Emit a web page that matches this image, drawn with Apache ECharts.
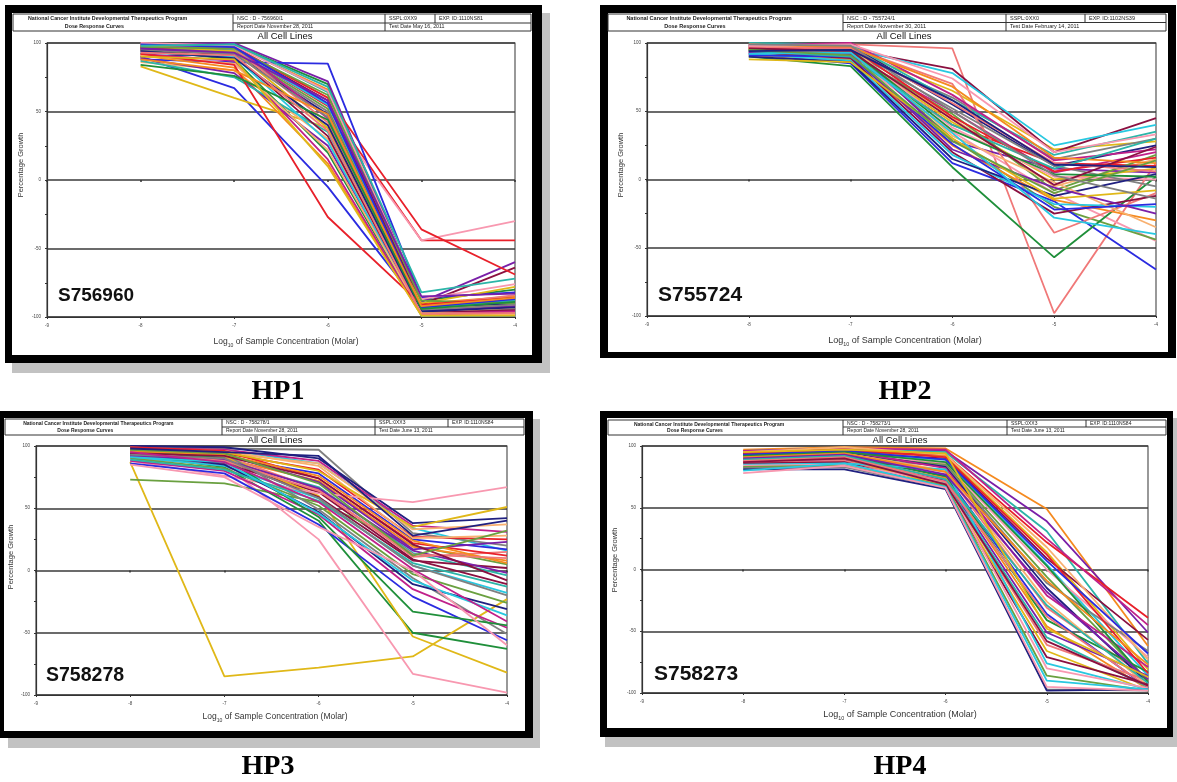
<!DOCTYPE html>
<html>
<head>
<meta charset="utf-8">
<style>
html, body { margin: 0; padding: 0; background: #fff; }
#container { width: 1177px; height: 782px; }
</style>
<script src="https://cdn.jsdelivr.net/npm/echarts@6/dist/echarts.min.js"></script>
</head>
<body>
<div id="container"></div>
<script>
// log10 molar concentrations tested
var doses = [-8, -7, -6, -5, -4];

// percentage growth per cell line, values at doses -8 .. -4
var hp1Growth = [
    [97, 95, 54, -44, -44], [90, 67, -5, -93, -85], [98, 99, 70, -88, -80], [97, 98, 66, -90, -85],
    [99, 100, 72, -89, -60], [96, 99, 64, -92, -88], [95, 97, 60, -94, -92], [83, 60, 38, -95, -90],
    [94, 96, 58, -91, -64], [93, 95, 55, -95, -95], [94, 93, 50, -44, -30], [92, 94, 52, -96, -97],
    [97, 93, 50, -97, -94], [90, 92, 48, -93, -90], [98, 98, 45, -98, -96], [86, 80, 30, -97, -93],
    [96, 97, 60, -36, -69], [88, 86, 85, -86, -82], [95, 88, 20, -98, -97], [91, 82, 12, -99, -98],
    [89, 78, 25, -96, -92], [87, 75, 35, -94, -88], [99, 96, 42, -92, -84], [98, 94, 38, -90, -78],
    [96, 91, 32, -97, -95], [93, 90, 28, -99, -99], [100, 98, 65, -87, -76], [97, 96, 62, -88, -90],
    [95, 92, 46, -95, -91], [94, 89, 40, -96, -93], [92, 87, 15, -98, -96], [91, 85, 22, -97, -98],
    [92, 84, -27, -91, -86], [99, 97, 56, -93, -87], [84, 76, 44, -94, -89], [88, 80, 48, -92, -86],
    [96, 93, 58, -85, -83], [98, 99, 68, -82, -72], [93, 91, 36, -98, -97], [90, 88, 10, -99, -99]
];
var hp2Growth = [
    [96, 99, 96, -98, 12], [97, 95, 65, 22, 28], [98, 95, 81, 20, 45], [97, 96, 78, 25, 40],
    [95, 90, 35, -10, -45], [94, 96, 30, -20, -44], [95, 93, 60, 15, 30], [99, 98, 55, 10, 25],
    [93, 91, 50, 5, 20], [97, 94, 45, -5, 15], [96, 92, 40, 12, 10], [92, 85, 12, -16, -66],
    [90, 83, 9, -57, 2], [91, 88, 25, -15, -30], [98, 97, 28, 8, 5], [100, 99, 58, 18, 35],
    [94, 97, 70, -39, -10], [96, 93, 42, 0, 8], [93, 89, 20, -25, -12], [92, 87, 18, -18, -20],
    [99, 96, 38, 2, 0], [95, 92, 48, -8, 18], [94, 94, 52, 10, -5], [90, 86, 15, -12, 4],
    [98, 100, 62, 14, 22], [97, 98, 32, -2, -35], [96, 97, 46, 6, 16], [91, 90, 26, -22, -18],
    [95, 95, 36, 4, 2], [99, 97, 68, 16, 12], [93, 92, 22, -6, -25], [94, 90, 40, 8, 30],
    [97, 96, 56, 12, 6], [88, 86, 30, -14, -8], [96, 94, 44, -4, 24], [92, 93, 34, -28, -40],
    [98, 99, 74, 20, 33], [95, 91, 28, -10, 14], [99, 98, 50, 3, -14], [94, 95, 58, 11, 9]
];
var hp3Growth = [
    [87, -85, -78, -69, -23], [92, 86, 63, 9, -11], [99, 97, 86, 34, 16], [90, 85, 25, -83, -98],
    [73, 70, 55, 20, 5], [99, 98, 97, 30, 20], [100, 99, 90, 38, 42], [98, 97, 88, 36, 31],
    [97, 94, 86, 33, 37], [96, 94, 81, 27, 25], [95, 91, 78, 25, 17], [93, 83, 40, -50, -63],
    [94, 90, 72, 19, 8], [98, 93, 71, 17, 23], [93, 88, 67, 14, -4], [97, 92, 65, 11, 15],
    [95, 92, 60, -53, -82], [96, 89, 59, 8, 2], [91, 84, 58, 4, -18], [88, 76, 62, 55, 67],
    [90, 82, 52, -3, -26], [99, 94, 49, -6, -51], [94, 85, 47, -11, -31], [88, 80, 45, -15, -46],
    [98, 96, 84, 26, 28], [99, 96, 74, 22, 12], [86, 78, 37, -21, -56], [97, 90, 43, -33, -44],
    [96, 93, 76, 24, 6], [92, 89, 66, 16, -2], [89, 81, 56, 6, -13], [95, 88, 64, 13, 10],
    [97, 95, 80, 35, 51], [94, 92, 74, 21, -8], [91, 87, 46, -8, -36], [85, 75, 35, 0, -60],
    [97, 94, 70, 12, 32], [93, 90, 58, 4, -20], [98, 95, 92, 28, 40], [95, 87, 55, 1, -41]
];
var hp4Growth = [
    [97, 99, 98, 49, -62], [95, 97, 96, 39, -51], [96, 98, 95, 31, -76], [91, 92, 79, -31, -88],
    [93, 95, 92, 14, -81], [95, 94, 90, 9, -57], [92, 93, 89, 4, -86], [91, 93, 86, 0, -71],
    [93, 92, 85, -6, -90], [90, 90, 84, -11, -66], [94, 95, 83, -15, -92], [96, 96, 82, -21, -79],
    [92, 94, 80, -26, -94], [94, 96, 93, 22, -39], [89, 91, 76, -36, -96], [93, 93, 75, -41, -83],
    [90, 90, 74, -46, -97], [88, 89, 72, -51, -86], [92, 91, 70, -55, -95], [87, 88, 69, -61, -90],
    [89, 90, 67, -66, -98], [86, 87, 66, -71, -93], [85, 86, 81, -76, -97], [84, 85, 71, -80, -96],
    [83, 84, 68, -86, -98], [82, 83, 66, -97, -98], [81, 81, 65, -98, -97], [96, 98, 97, 25, -45],
    [95, 99, 93, 18, -73], [94, 97, 91, 12, -84], [93, 96, 89, 7, -68], [92, 95, 87, 3, -91],
    [91, 94, 79, -9, -77], [90, 93, 77, -18, -89], [89, 92, 73, -29, -92], [88, 91, 71, -38, -95],
    [95, 97, 94, -48, -87], [87, 90, 69, -58, -94], [80, 86, 67, -90, -97], [78, 84, 66, -95, -98]
];

var lineColors = ['#e8202a', '#2b2be0', '#1f8f3a', '#f58a1f', '#7a1fa8', '#2bb5a8', '#f07878', '#e0b818',
                  '#8a1040', '#28c8e0', '#f898b0', '#6aa040', '#808080', '#202080', '#c0208a', '#f8b070'];

var panels = [
    {label: 'HP1', sample: 'S756960', data: hp1Growth, shift: 0,
     nsc: 'NSC : D - 756960/1', report: 'Report Date November 28, 2011', sspl: 'SSPL:0XX9', exp: 'EXP. ID:1110NS81', test: 'Test Date May 16, 2011',
     shadow: [12, 13, 538, 360], outer: [5, 5, 537, 358], inner: [12, 13, 520, 342],
     head: {l: 13, r: 531, t: 14, m: 23, b: 31, c1: 233, c2: 385, c3: 435}, hf: 5.3,
     title: [285, 36], grid: [47, 43, 468, 274], yName: [21, 165], xName: [286, 342], xf: 8.5,
     sampleAt: [58, 296], sf: 19, labelAt: [278, 392]},
    {label: 'HP2', sample: 'S755724', data: hp2Growth, shift: 6,
     nsc: 'NSC : D - 755724/1', report: 'Report Date November 30, 2011', sspl: 'SSPL:0XX0', exp: 'EXP. ID:1102NS39', test: 'Test Date February 14, 2011',
     shadow: null, outer: [600, 5, 576, 353], inner: [608, 13, 560, 339],
     head: {l: 608, r: 1166, t: 14, m: 22.5, b: 31, c1: 843, c2: 1006, c3: 1085}, hf: 5.5,
     title: [904, 36], grid: [647, 43, 509, 273], yName: [621, 165], xName: [905, 341], xf: 9,
     sampleAt: [658, 295], sf: 21, labelAt: [905, 392]},
    {label: 'HP3', sample: 'S758278', data: hp3Growth, shift: 7,
     nsc: 'NSC : D - 758278/1', report: 'Report Date November 28, 2011', sspl: 'SSPL:0XX3', exp: 'EXP. ID:1110NS84', test: 'Test Date June 13, 2011',
     shadow: [8, 419, 532, 329], outer: [0, 411, 533, 327], inner: [4, 418, 521, 313],
     head: {l: 5, r: 524, t: 419, m: 427, b: 435, c1: 222, c2: 375, c3: 448}, hf: 5,
     title: [275, 440], grid: [36, 446, 471, 249], yName: [11, 557], xName: [275, 717], xf: 8.5,
     sampleAt: [46, 676], sf: 19.5, labelAt: [268, 767]},
    {label: 'HP4', sample: 'S758273', data: hp4Growth, shift: 3,
     nsc: 'NSC : D - 758273/1', report: 'Report Date November 28, 2011', sspl: 'SSPL:0XX3', exp: 'EXP. ID:1110NS84', test: 'Test Date June 13, 2011',
     shadow: [605, 418, 576, 329], outer: [600, 411, 573, 326], inner: [607, 418, 560, 310],
     head: {l: 608, r: 1166, t: 420, m: 427, b: 435, c1: 843, c2: 1007, c3: 1086}, hf: 5,
     title: [900, 440], grid: [642, 446, 506, 247], yName: [615, 560], xName: [900, 715], xf: 9,
     sampleAt: [654, 674], sf: 21, labelAt: [900, 767]}
];

function rect(r, color, z) {
    return {type: 'rect', z: z, silent: true, shape: {x: r[0], y: r[1], width: r[2], height: r[3]}, style: {fill: color}};
}
function seg(x1, y1, x2, y2) {
    return {type: 'line', z: -5, silent: true, shape: {x1: x1, y1: y1, x2: x2, y2: y2}, style: {stroke: '#333', lineWidth: 1}};
}
function txt(x, y, s, size, opts) {
    opts = opts || {};
    return {
        type: 'text', x: x, y: y, z: 50, silent: true, rotation: opts.rotation || 0,
        style: {
            text: s, fill: opts.fill || '#222', fontSize: size,
            fontFamily: opts.family || 'Liberation Sans, Arial, sans-serif',
            fontWeight: opts.weight || 'normal',
            align: opts.align || 'center', verticalAlign: 'middle',
            textAlign: opts.align || 'center', textVerticalAlign: 'middle',
            rich: opts.rich
        }
    };
}

var graphics = [];
var grids = [], xAxes = [], yAxes = [], series = [];

panels.forEach(function (p, i) {
    var h = p.head;
    if (p.shadow) graphics.push(rect(p.shadow, '#c2c2c2', -30));
    graphics.push(rect(p.outer, '#000', -20));
    graphics.push(rect(p.inner, '#fff', -10));
    // header table
    graphics.push(seg(h.l, h.t, h.r, h.t), seg(h.l, h.b, h.r, h.b), seg(h.l, h.t, h.l, h.b), seg(h.r, h.t, h.r, h.b),
        seg(h.c1, h.t, h.c1, h.b), seg(h.c2, h.t, h.c2, h.b), seg(h.c3, h.t, h.c3, h.m), seg(h.c1, h.m, h.r, h.m));
    var r1 = (h.t + h.m) / 2, r2 = (h.m + h.b) / 2;
    graphics.push(
        txt(h.l + (h.c1 - h.l) * 0.43, h.t + (h.b - h.t) * 0.28, 'National Cancer Institute Developmental Therapeutics Program', p.hf, {weight: 'bold'}),
        txt(h.l + (h.c1 - h.l) * 0.37, h.t + (h.b - h.t) * 0.74, 'Dose Response Curves', p.hf, {weight: 'bold'}),
        txt(h.c1 + 4, r1, p.nsc, p.hf, {align: 'left'}),
        txt(h.c1 + 4, r2, p.report, p.hf, {align: 'left'}),
        txt(h.c2 + 4, r1, p.sspl, p.hf, {align: 'left'}),
        txt(h.c3 + 4, r1, p.exp, p.hf, {align: 'left'}),
        txt(h.c2 + 4, r2, p.test, p.hf, {align: 'left'}),
        txt(p.title[0], p.title[1], 'All Cell Lines', 9.5, {fill: '#111'}),
        txt(p.yName[0], p.yName[1], 'Percentage Growth', 7.5, {rotation: Math.PI / 2, fill: '#333'}),
        txt(p.xName[0], p.xName[1], '{a|Log}{b|10}{a| of Sample Concentration (Molar)}', p.xf, {
            fill: '#333',
            rich: {
                a: {fontSize: p.xf, fill: '#333', lineHeight: 12, verticalAlign: 'middle', fontFamily: 'Liberation Sans, Arial, sans-serif'},
                b: {fontSize: p.xf * 0.6, fill: '#333', lineHeight: 12, verticalAlign: 'bottom', fontFamily: 'Liberation Sans, Arial, sans-serif'}
            }
        }),
        txt(p.sampleAt[0], p.sampleAt[1], p.sample, p.sf, {align: 'left', weight: 'bold', fill: '#111'}),
        txt(p.labelAt[0], p.labelAt[1], p.label, 28, {weight: 'bold', fill: '#000', family: 'Liberation Serif, Times New Roman, serif'})
    );

    grids.push({left: p.grid[0], top: p.grid[1], width: p.grid[2], height: p.grid[3],
        show: true, borderColor: '#555', borderWidth: 1.2, backgroundColor: 'transparent'});
    xAxes.push({
        gridIndex: i, type: 'value', min: -9, max: -4, interval: 1,
        axisLine: {show: true, onZero: false, lineStyle: {color: '#333', width: 1.2}},
        axisTick: {show: true, length: 2, lineStyle: {color: '#333'}},
        axisLabel: {fontSize: 4.5, color: '#444', margin: 6},
        splitLine: {show: false}
    });
    yAxes.push({
        gridIndex: i, type: 'value', min: -100, max: 100, interval: 50,
        axisLine: {show: true, onZero: false, lineStyle: {color: '#333', width: 1.2}},
        axisTick: {show: true, length: 2, lineStyle: {color: '#333'}},
        minorTick: {show: true, splitNumber: 2, length: 2, lineStyle: {color: '#333'}},
        axisLabel: {fontSize: 4.5, color: '#444', margin: 6},
        splitLine: {show: true, lineStyle: {color: '#3a3a3a', width: 1.6}}
    });

    p.data.forEach(function (row, j) {
        series.push({
            type: 'line', xAxisIndex: i, yAxisIndex: i, symbol: 'none', silent: true,
            lineStyle: {width: 1.8, color: lineColors[(j + p.shift) % lineColors.length]},
            data: doses.map(function (d, k) { return [d, row[k]]; })
        });
    });
});

// tick marks along the top border of each plot
panels.forEach(function (p, i) {
    xAxes.push({
        gridIndex: i, type: 'value', position: 'top', min: -9, max: -4, interval: 1,
        axisLine: {show: false}, axisLabel: {show: false}, splitLine: {show: false},
        axisTick: {show: true, inside: true, length: 2, lineStyle: {color: '#333', width: 1.5}}
    });
});

var dom = document.getElementById("container");
var myChart = echarts.init(dom);
var option = {
    backgroundColor: '#fff',
    animation: false,
    grid: grids,
    xAxis: xAxes,
    yAxis: yAxes,
    graphic: graphics,
    series: series
};
myChart.setOption(option, true);
</script>
</body>
</html>
